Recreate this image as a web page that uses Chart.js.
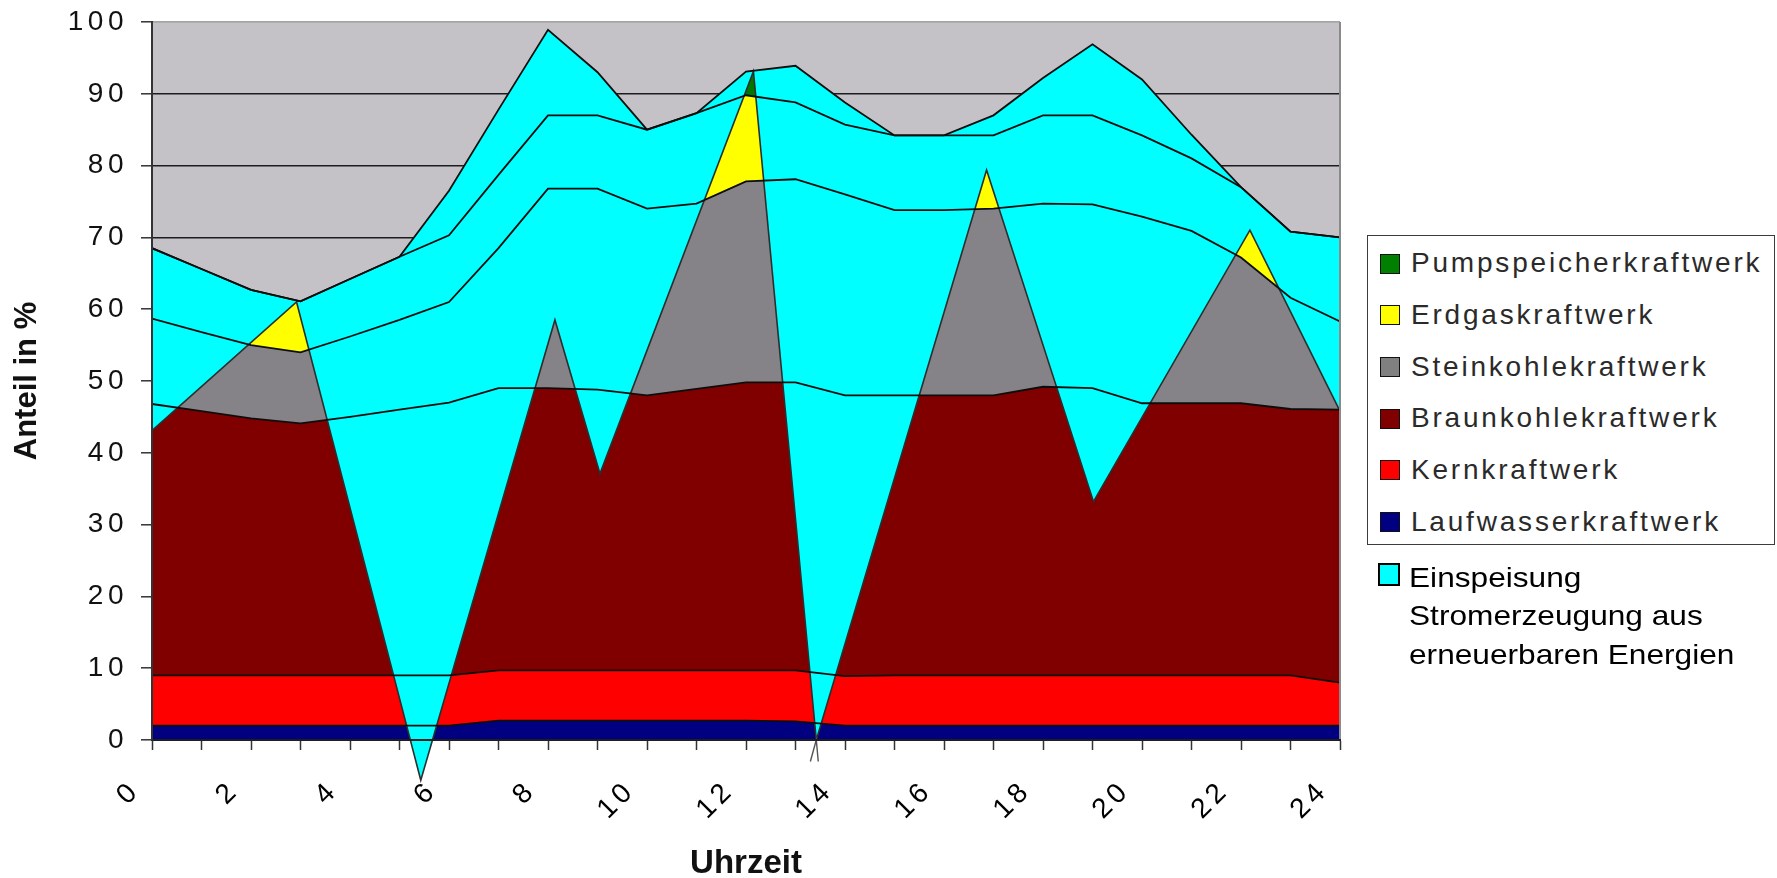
<!DOCTYPE html>
<html lang="de">
<head>
<meta charset="utf-8">
<title>Anteil der Kraftwerksarten an der Stromerzeugung im Tagesverlauf</title>
<script src="https://cdn.jsdelivr.net/npm/chart.js@4.4.1/dist/chart.umd.min.js"></script>
<style>
  html, body { margin: 0; padding: 0; background: #ffffff; }
  #buehne { position: relative; width: 1777px; height: 878px; overflow: hidden; font-family: "Liberation Sans", Arial, sans-serif; }
  #diagramm { position: absolute; left: 0; top: 0; width: 1777px; height: 878px; }
  #legende { position: absolute; left: 1367px; top: 235px; width: 408px; height: 310px; box-sizing: border-box; border: 1.5px solid #3c3c3c; background: #ffffff; }
  .eintrag { position: absolute; left: 0; width: 100%; height: 20px; }
  .feld { position: absolute; left: 12px; top: 0; width: 20px; height: 20px; box-sizing: border-box; border: 1.5px solid #111111; }
  .text { position: absolute; left: 43px; top: -4.4px; font-size: 28px; line-height: 28px; letter-spacing: 2.8px; color: #2a2a2a; white-space: nowrap; }
  #ee { position: absolute; left: 1378px; top: 559px; }
  #ee .feld { left: 0; top: 4px; width: 22px; height: 23px; border: 2px solid #000000; background: #00ffff; }
  #ee .zeilen { position: absolute; left: 31px; top: 0; font-size: 28px; line-height: 38.3px; color: #000000; white-space: nowrap; transform: scaleX(1.13); transform-origin: left top; }
</style>
</head>
<body>
<div id="buehne">
  <canvas id="diagramm" width="1777" height="878"></canvas>
  <div id="legende"></div>
  <div id="ee">
    <div class="feld"></div>
    <div class="zeilen">Einspeisung<br>Stromerzeugung aus<br>erneuerbaren Energien</div>
  </div>
</div>
<script>
// Uhrzeit (Stunden) und Anteile der Kraftwerksarten in %
const stunden = [0, 1, 2, 3, 4, 5, 6, 7, 8, 9, 10, 11, 12, 13, 14, 15, 16, 17, 18, 19, 20, 21, 22, 23, 24];
const uhrzeitLabels = [0, 2, 4, 6, 8, 10, 12, 14, 16, 18, 20, 22, 24];

const laufwasser   = [2, 2, 2, 2, 2, 2, 2, 2.7, 2.7, 2.7, 2.7, 2.7, 2.7, 2.6, 2, 2, 2, 2, 2, 2, 2, 2, 2, 2, 2];
const kern         = [7, 7, 7, 7, 7, 7, 7, 7, 7, 7, 7, 7, 7, 7.1, 6.9, 7, 7, 7, 7, 7, 7, 7, 7, 7, 6];
const braunkohle   = [37.8, 36.8, 35.8, 35.1, 36.0, 37.0, 38.0, 39.3, 39.3, 39.1, 38.3, 39.2, 40.1, 40.1, 39.1, 39.0, 39.0, 39.0, 40.2, 40.0, 37.9, 37.9, 37.9, 37.1, 38.0];
const steinkohle   = [11.9, 11.0, 10.2, 9.9, 11.2, 12.5, 14.0, 19.5, 27.8, 28.0, 26.0, 25.8, 28.0, 28.3, 28.0, 25.8, 25.8, 26.0, 25.5, 25.6, 26.0, 24.0, 20.3, 15.5, 12.3];
const erdgas       = [9.8, 8.8, 7.7, 7.1, 8.0, 8.8, 9.3, 10.2, 10.2, 10.2, 11.0, 12.6, 12.0, 10.7, 9.7, 10.4, 10.4, 10.2, 12.3, 12.4, 11.3, 10.1, 9.8, 9.2, 11.7];
const pumpspeicher = [0, 0, 0, 0, 0, 0, 6.2, 9.1, 11.9, 6.0, 0, 0, 3.3, 5.1, 3.1, 0, 0, 2.8, 5.2, 9.9, 7.8, 3.3, 0, 0, 0];

// Untergrenze der Einspeisung aus erneuerbaren Energien (Flaeche reicht bis zur Gesamtlinie)
const einspeisungStunde = [0, 2.92, 5.43, 8.14, 9.05, 12.15, 13.42, 16.86, 19.02, 22.18, 24];
const einspeisungWert   = [43.1, 61.0, -5.6, 58.5, 37.1, 93.1, 0, 79.4, 33.2, 71.0, 45.8];
// Auslaeufer der sich kreuzenden Kanten unter der Achse
const kreuzungStunde = [13.46, 13.42, 13.30];
const kreuzungWert   = [-3, 0, -3];

const serienNamen   = ['Laufwasserkraftwerk', 'Kernkraftwerk', 'Braunkohlekraftwerk', 'Steinkohlekraftwerk', 'Erdgaskraftwerk', 'Pumpspeicherkraftwerk'];
const serienFarben  = ['#000080', '#ff0000', '#800000', '#858387', '#ffff00', '#007800'];
const legendeFarben = ['#000080', '#ff0000', '#800000', '#808080', '#ffff00', '#008000'];
const einspeisungFarbe = '#00ffff';

// gestapelte Summen
const anteile = [laufwasser, kern, braunkohle, steinkohle, erdgas, pumpspeicher];
let laufendeSumme = stunden.map(() => 0);
const summen = anteile.map(reihe => {
  laufendeSumme = laufendeSumme.map((s, i) => Math.round((s + reihe[i]) * 100) / 100);
  return laufendeSumme;
});
const punkte = werte => stunden.map((h, i) => ({ x: h, y: werte[i] }));

const baender = summen.map((werte, k) => ({
  label: serienNamen[k],
  data: punkte(werte),
  fill: k === 0 ? 'origin' : '-1',
  backgroundColor: serienFarben[k],
  borderColor: 'rgba(0,0,0,0)',
  borderWidth: 0,
  pointRadius: 0,
  order: 20 - k
}));

const EE_INDEX = baender.length;
const GESAMT_INDEX = baender.length - 1;

const einspeisung = {
  label: 'Einspeisung Stromerzeugung aus erneuerbaren Energien',
  data: einspeisungStunde.map((x, i) => ({ x, y: einspeisungWert[i] })),
  fill: false,
  borderColor: '#2e2e2e',
  borderWidth: 1.6,
  pointRadius: 0,
  clip: false,
  order: 5
};

const kreuzung = {
  label: 'Kreuzung',
  data: kreuzungStunde.map((x, i) => ({ x, y: kreuzungWert[i] })),
  fill: false,
  borderColor: '#555555',
  borderWidth: 1.4,
  pointRadius: 0,
  clip: false,
  order: 4
};

const umrisse = summen.map(werte => ({
  label: '',
  data: punkte(werte),
  fill: false,
  borderColor: '#0d0d0d',
  borderWidth: 1.8,
  pointRadius: 0,
  order: 1
}));

// Hintergrund, Rahmen und Zeichenabstand der Achsenbeschriftung
const zeichenflaeche = {
  id: 'zeichenflaeche',
  beforeDraw(chart) {
    const { ctx, chartArea: a } = chart;
    ctx.letterSpacing = '0px';
    ctx.save();
    ctx.fillStyle = '#c4c2c7';
    ctx.fillRect(a.left, a.top, a.right - a.left, a.bottom - a.top);
    ctx.restore();
  },
  afterDatasetsDraw(chart) {
    const { ctx, chartArea: a } = chart;
    ctx.save();
    ctx.strokeStyle = '#a5a5a5';
    ctx.lineWidth = 1.2;
    ctx.beginPath();
    ctx.moveTo(a.left, a.top);
    ctx.lineTo(a.right, a.top);
    ctx.stroke();
    ctx.strokeStyle = '#8a8a8a';
    ctx.lineWidth = 2;
    ctx.beginPath();
    ctx.moveTo(a.right, a.top);
    ctx.lineTo(a.right, a.bottom);
    ctx.stroke();
    ctx.restore();
    ctx.letterSpacing = '4.5px';
  },
  afterDraw(chart) {
    chart.ctx.letterSpacing = '0px';
  }
};

// Flaeche der erneuerbaren Einspeisung zwischen ihrer Untergrenze und der Gesamtlinie
const einspeisungsFlaeche = {
  id: 'einspeisungsFlaeche',
  beforeDatasetDraw(chart, args) {
    if (args.index !== EE_INDEX) return;
    const kante = chart.getDatasetMeta(EE_INDEX).data;
    const oben = chart.getDatasetMeta(GESAMT_INDEX).data;
    const ctx = chart.ctx;
    ctx.save();
    ctx.beginPath();
    kante.forEach((p, i) => (i ? ctx.lineTo(p.x, p.y) : ctx.moveTo(p.x, p.y)));
    for (let i = oben.length - 1; i >= 0; i--) ctx.lineTo(oben[i].x, oben[i].y);
    ctx.closePath();
    ctx.fillStyle = einspeisungFarbe;
    ctx.fill();
    ctx.restore();
  }
};

const tickSchrift = { family: '"Liberation Sans", Arial, sans-serif', size: 28 };
const titelSchrift = { family: '"Liberation Sans", Arial, sans-serif', size: 31, weight: 'bold' };

new Chart(document.getElementById('diagramm'), {
  type: 'line',
  data: { datasets: [...baender, einspeisung, kreuzung, ...umrisse] },
  options: {
    responsive: false,
    animation: false,
    devicePixelRatio: 1,
    events: [],
    layout: { padding: { left: 0, right: 437, top: 22, bottom: 0 } },
    plugins: { legend: { display: false }, tooltip: { enabled: false } },
    elements: { line: { tension: 0 }, point: { radius: 0 } },
    scales: {
      x: {
        type: 'linear',
        min: 0,
        max: 24,
        afterFit(scale) { scale.height = 138; },
        border: { display: true, color: '#1e1e1e', width: 2, z: 1 },
        grid: { drawOnChartArea: false, drawTicks: true, tickLength: 10, tickColor: '#333333', tickWidth: 1.5 },
        ticks: {
          stepSize: 1,
          autoSkip: false,
          minRotation: 45,
          maxRotation: 45,
          padding: 24,
          labelOffset: -16,
          z: 1,
          color: '#000000',
          font: tickSchrift,
          callback: v => (uhrzeitLabels.includes(v) ? String(v) : '')
        },
        title: {
          display: true,
          text: 'Uhrzeit',
          color: '#111111',
          font: { family: titelSchrift.family, size: 33, weight: 'bold', lineHeight: 0.85 },
          padding: 0
        }
      },
      y: {
        min: 0,
        max: 100,
        afterFit(scale) {
          scale.width = 152;
          scale.paddingTop = 0;
        },
        border: { display: true, color: '#333333', width: 2, z: 1 },
        grid: {
          color: c => (c.tick && c.tick.value === 100 ? '#a5a5a5' : '#1c1c1c'),
          lineWidth: 1.6,
          tickLength: 11,
          tickColor: '#333333',
          tickWidth: 1.5
        },
        ticks: { stepSize: 10, padding: 13, z: 1, color: '#111111', font: tickSchrift },
        title: {
          display: true,
          text: 'Anteil in %',
          color: '#111111',
          font: titelSchrift,
          padding: { top: 9, bottom: 0 }
        }
      }
    }
  },
  plugins: [zeichenflaeche, einspeisungsFlaeche]
});

// Legende: oberste Schicht zuerst
const legende = document.getElementById('legende');
for (let k = serienNamen.length - 1, zeile = 0; k >= 0; k--, zeile++) {
  const eintrag = document.createElement('div');
  eintrag.className = 'eintrag';
  eintrag.style.top = (17.5 + zeile * 51.7) + 'px';
  const feld = document.createElement('div');
  feld.className = 'feld';
  feld.style.background = legendeFarben[k];
  const text = document.createElement('div');
  text.className = 'text';
  text.textContent = serienNamen[k];
  eintrag.appendChild(feld);
  eintrag.appendChild(text);
  legende.appendChild(eintrag);
}
</script>
</body>
</html>
